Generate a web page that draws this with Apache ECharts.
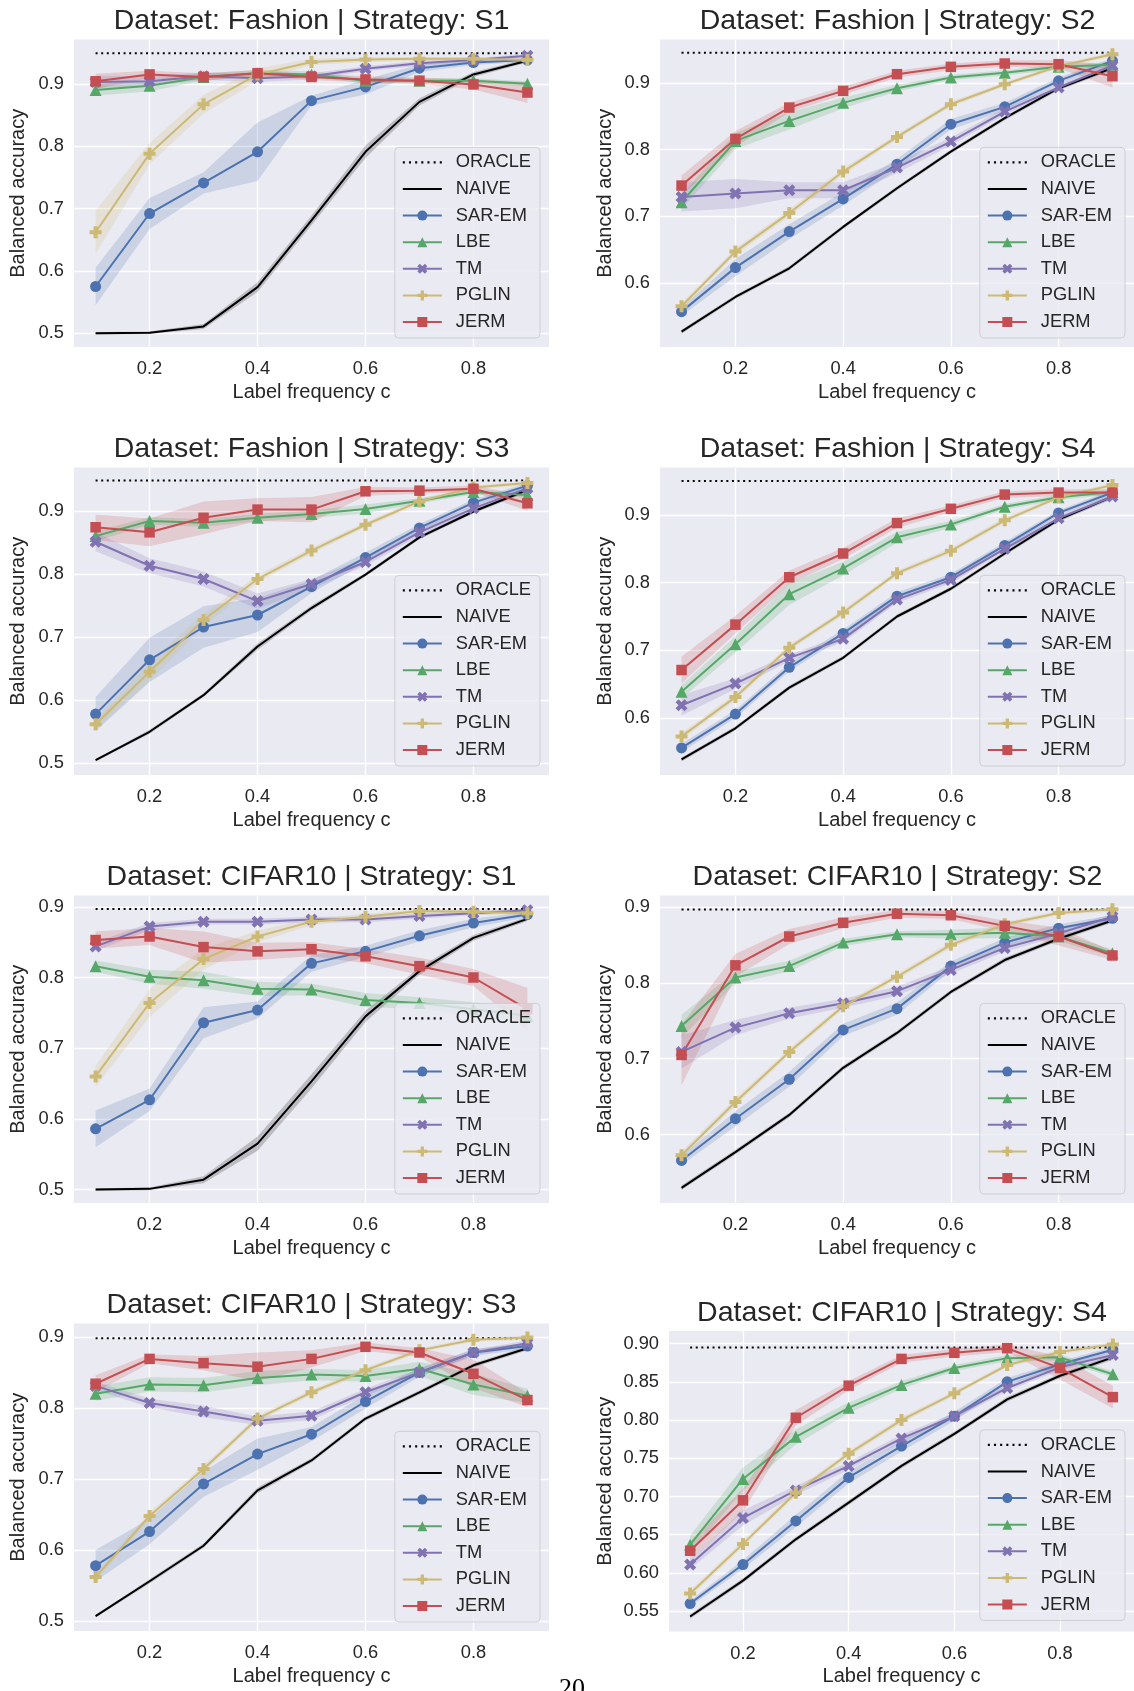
<!DOCTYPE html>
<html>
<head>
<meta charset="utf-8">
<script src="https://cdn.jsdelivr.net/npm/echarts@6/dist/echarts.min.js"></script>
<style>
html,body{margin:0;padding:0;background:#ffffff;}
#chart{width:1134px;height:1691px;}
</style>
</head>
<body>
<div id="chart"></div>
<script>
// ---------------- data ----------------
const C = [0.1, 0.2, 0.3, 0.4, 0.5, 0.6, 0.7, 0.8, 0.9];
const X_TICKS = [0.2, 0.4, 0.6, 0.8];
const Y_TICKS_A = [0.5, 0.6, 0.7, 0.8, 0.9];
const Y_TICKS_B = [0.6, 0.7, 0.8, 0.9];
const Y_TICKS_C = [0.55, 0.60, 0.65, 0.70, 0.75, 0.80, 0.85, 0.90];
const METHODS = ['ORACLE', 'NAIVE', 'SAR-EM', 'LBE', 'TM', 'PGLIN', 'JERM'];
const TITLES = [
  'Dataset: Fashion | Strategy: S1', 'Dataset: Fashion | Strategy: S2',
  'Dataset: Fashion | Strategy: S3', 'Dataset: Fashion | Strategy: S4',
  'Dataset: CIFAR10 | Strategy: S1', 'Dataset: CIFAR10 | Strategy: S2',
  'Dataset: CIFAR10 | Strategy: S3', 'Dataset: CIFAR10 | Strategy: S4'
];
const ORACLE = [0.949, 0.945, 0.948, 0.950, 0.897, 0.8965, 0.898, 0.895];

// Fashion S1
const f1_naive = [0.500, 0.501, 0.511, 0.574, 0.681, 0.791, 0.871, 0.915, 0.937];
const f1_sarem = [0.575, 0.692, 0.741, 0.791, 0.873, 0.895, 0.925, 0.934, 0.938];
const f1_lbe   = [0.890, 0.897, 0.911, 0.917, 0.915, 0.905, 0.905, 0.905, 0.900];
const f1_tm    = [0.903, 0.904, 0.912, 0.909, 0.912, 0.924, 0.933, 0.938, 0.945];
const f1_pglin = [0.662, 0.788, 0.867, 0.915, 0.935, 0.939, 0.940, 0.940, 0.938];
const f1_jerm  = [0.904, 0.915, 0.911, 0.917, 0.911, 0.907, 0.905, 0.899, 0.886];
const f1_naive_err = [0.002, 0.002, 0.004, 0.008, 0.008, 0.010, 0.006, 0.004, 0.003];
const f1_sarem_err = [0.030, 0.025, 0.017, 0.047, 0.008, 0.012, 0.006, 0.004, 0.003];
const f1_lbe_err   = [0.009, 0.009, 0.006, 0.005, 0.005, 0.004, 0.004, 0.004, 0.004];
const f1_tm_err    = [0.010, 0.008, 0.006, 0.006, 0.005, 0.004, 0.004, 0.003, 0.003];
const f1_pglin_err = [0.035, 0.017, 0.015, 0.010, 0.005, 0.004, 0.003, 0.003, 0.003];
const f1_jerm_err  = [0.012, 0.006, 0.006, 0.005, 0.005, 0.005, 0.005, 0.008, 0.017];

// Fashion S2
const f2_naive = [0.527, 0.579, 0.622, 0.684, 0.742, 0.797, 0.847, 0.892, 0.922];
const f2_sarem = [0.557, 0.623, 0.677, 0.726, 0.778, 0.838, 0.864, 0.903, 0.933];
const f2_lbe   = [0.721, 0.813, 0.843, 0.870, 0.892, 0.908, 0.915, 0.924, 0.927];
const f2_tm    = [0.729, 0.734, 0.739, 0.739, 0.773, 0.812, 0.857, 0.893, 0.926];
const f2_pglin = [0.565, 0.647, 0.705, 0.767, 0.819, 0.868, 0.898, 0.925, 0.943];
const f2_jerm  = [0.746, 0.816, 0.863, 0.888, 0.913, 0.924, 0.929, 0.928, 0.910];
const f2_naive_err = [0.003, 0.003, 0.003, 0.003, 0.003, 0.003, 0.003, 0.003, 0.003];
const f2_sarem_err = [0.006, 0.013, 0.011, 0.010, 0.008, 0.008, 0.006, 0.005, 0.004];
const f2_lbe_err   = [0.010, 0.012, 0.013, 0.008, 0.005, 0.004, 0.004, 0.004, 0.004];
const f2_tm_err    = [0.022, 0.022, 0.012, 0.012, 0.008, 0.006, 0.005, 0.004, 0.004];
const f2_pglin_err = [0.005, 0.005, 0.005, 0.005, 0.004, 0.004, 0.003, 0.003, 0.003];
const f2_jerm_err  = [0.015, 0.012, 0.007, 0.006, 0.005, 0.005, 0.005, 0.006, 0.017];

// Fashion S3
const f3_naive = [0.505, 0.550, 0.608, 0.685, 0.746, 0.799, 0.858, 0.899, 0.933];
const f3_sarem = [0.578, 0.664, 0.716, 0.735, 0.780, 0.826, 0.873, 0.913, 0.940];
const f3_lbe   = [0.860, 0.884, 0.881, 0.889, 0.895, 0.903, 0.916, 0.930, 0.925];
const f3_tm    = [0.851, 0.813, 0.792, 0.757, 0.784, 0.819, 0.866, 0.904, 0.936];
const f3_pglin = [0.562, 0.645, 0.727, 0.792, 0.837, 0.878, 0.915, 0.937, 0.944];
const f3_jerm  = [0.874, 0.866, 0.889, 0.902, 0.902, 0.931, 0.932, 0.935, 0.912];
const f3_naive_err = [0.002, 0.003, 0.003, 0.005, 0.004, 0.003, 0.003, 0.003, 0.003];
const f3_sarem_err = [0.027, 0.035, 0.033, 0.027, 0.010, 0.008, 0.006, 0.005, 0.004];
const f3_lbe_err   = [0.008, 0.006, 0.006, 0.006, 0.006, 0.007, 0.004, 0.004, 0.004];
const f3_tm_err    = [0.015, 0.012, 0.012, 0.012, 0.008, 0.006, 0.006, 0.005, 0.004];
const f3_pglin_err = [0.008, 0.015, 0.010, 0.006, 0.005, 0.004, 0.004, 0.003, 0.003];
const f3_jerm_err  = [0.020, 0.022, 0.026, 0.018, 0.020, 0.007, 0.005, 0.005, 0.012];

// Fashion S4
const f4_naive = [0.539, 0.585, 0.645, 0.689, 0.750, 0.791, 0.843, 0.893, 0.927];
const f4_sarem = [0.556, 0.606, 0.675, 0.725, 0.780, 0.808, 0.855, 0.903, 0.933];
const f4_lbe   = [0.639, 0.709, 0.783, 0.821, 0.867, 0.886, 0.912, 0.926, 0.934];
const f4_tm    = [0.619, 0.651, 0.689, 0.717, 0.775, 0.804, 0.850, 0.895, 0.927];
const f4_pglin = [0.573, 0.631, 0.704, 0.756, 0.814, 0.847, 0.892, 0.926, 0.944];
const f4_jerm  = [0.671, 0.738, 0.808, 0.843, 0.888, 0.909, 0.930, 0.933, 0.933];
const f4_naive_err = [0.003, 0.003, 0.003, 0.003, 0.003, 0.003, 0.003, 0.003, 0.003];
const f4_sarem_err = [0.006, 0.006, 0.006, 0.006, 0.006, 0.005, 0.005, 0.004, 0.004];
const f4_lbe_err   = [0.010, 0.012, 0.016, 0.010, 0.008, 0.005, 0.004, 0.004, 0.004];
const f4_tm_err    = [0.015, 0.008, 0.005, 0.005, 0.005, 0.005, 0.004, 0.004, 0.004];
const f4_pglin_err = [0.005, 0.005, 0.004, 0.004, 0.004, 0.004, 0.004, 0.003, 0.003];
const f4_jerm_err  = [0.020, 0.013, 0.010, 0.008, 0.007, 0.005, 0.005, 0.005, 0.005];

// CIFAR10 S1
const c1_naive = [0.500, 0.501, 0.514, 0.565, 0.653, 0.745, 0.809, 0.856, 0.883];
const c1_sarem = [0.586, 0.627, 0.736, 0.754, 0.820, 0.837, 0.859, 0.877, 0.889];
const c1_lbe   = [0.816, 0.801, 0.796, 0.784, 0.783, 0.768, 0.764, 0.755, 0.746];
const c1_tm    = [0.844, 0.872, 0.879, 0.879, 0.882, 0.882, 0.887, 0.891, 0.895];
const c1_pglin = [0.660, 0.764, 0.826, 0.858, 0.879, 0.886, 0.894, 0.893, 0.891];
const c1_jerm  = [0.853, 0.858, 0.843, 0.837, 0.840, 0.830, 0.816, 0.800, 0.755];
const c1_naive_err = [0.002, 0.002, 0.005, 0.010, 0.010, 0.008, 0.005, 0.004, 0.003];
const c1_sarem_err = [0.026, 0.016, 0.022, 0.012, 0.012, 0.008, 0.008, 0.006, 0.004];
const c1_lbe_err   = [0.008, 0.010, 0.012, 0.010, 0.008, 0.010, 0.008, 0.010, 0.010];
const c1_tm_err    = [0.006, 0.005, 0.004, 0.004, 0.004, 0.004, 0.004, 0.003, 0.003];
const c1_pglin_err = [0.015, 0.020, 0.015, 0.008, 0.005, 0.004, 0.003, 0.003, 0.003];
const c1_jerm_err  = [0.012, 0.012, 0.022, 0.012, 0.010, 0.010, 0.012, 0.012, 0.030];

// CIFAR10 S2
const c2_naive = [0.530, 0.577, 0.626, 0.688, 0.734, 0.788, 0.830, 0.858, 0.882];
const c2_sarem = [0.566, 0.621, 0.673, 0.738, 0.766, 0.822, 0.853, 0.872, 0.885];
const c2_lbe   = [0.743, 0.807, 0.822, 0.853, 0.864, 0.864, 0.866, 0.861, 0.839];
const c2_tm    = [0.709, 0.741, 0.760, 0.773, 0.789, 0.817, 0.846, 0.865, 0.887];
const c2_pglin = [0.573, 0.643, 0.709, 0.769, 0.808, 0.850, 0.877, 0.892, 0.897];
const c2_jerm  = [0.705, 0.823, 0.861, 0.879, 0.891, 0.889, 0.875, 0.861, 0.836];
const c2_naive_err = [0.003, 0.003, 0.003, 0.003, 0.003, 0.003, 0.003, 0.003, 0.003];
const c2_sarem_err = [0.006, 0.010, 0.010, 0.008, 0.008, 0.006, 0.006, 0.005, 0.004];
const c2_lbe_err   = [0.015, 0.008, 0.007, 0.005, 0.004, 0.006, 0.007, 0.006, 0.005];
const c2_tm_err    = [0.022, 0.010, 0.007, 0.006, 0.006, 0.005, 0.005, 0.004, 0.004];
const c2_pglin_err = [0.005, 0.005, 0.004, 0.004, 0.004, 0.004, 0.003, 0.003, 0.003];
const c2_jerm_err  = [0.040, 0.015, 0.010, 0.007, 0.005, 0.005, 0.007, 0.012, 0.006];

// CIFAR10 S3
const c3_naive = [0.507, 0.556, 0.606, 0.684, 0.726, 0.785, 0.822, 0.860, 0.884];
const c3_sarem = [0.578, 0.626, 0.693, 0.735, 0.763, 0.809, 0.850, 0.878, 0.887];
const c3_lbe   = [0.820, 0.833, 0.832, 0.842, 0.847, 0.845, 0.855, 0.833, 0.817];
const c3_tm    = [0.831, 0.807, 0.795, 0.782, 0.789, 0.822, 0.850, 0.878, 0.891];
const c3_pglin = [0.562, 0.648, 0.714, 0.785, 0.822, 0.853, 0.881, 0.896, 0.899];
const c3_jerm  = [0.834, 0.869, 0.863, 0.858, 0.869, 0.886, 0.878, 0.848, 0.811];
const c3_naive_err = [0.002, 0.003, 0.003, 0.004, 0.003, 0.003, 0.003, 0.003, 0.003];
const c3_sarem_err = [0.022, 0.018, 0.018, 0.022, 0.010, 0.010, 0.006, 0.005, 0.004];
const c3_lbe_err   = [0.010, 0.010, 0.010, 0.010, 0.008, 0.008, 0.010, 0.015, 0.010];
const c3_tm_err    = [0.006, 0.006, 0.008, 0.006, 0.006, 0.005, 0.005, 0.004, 0.004];
const c3_pglin_err = [0.005, 0.005, 0.005, 0.004, 0.004, 0.004, 0.003, 0.003, 0.003];
const c3_jerm_err  = [0.012, 0.006, 0.010, 0.020, 0.012, 0.006, 0.006, 0.020, 0.010];

// CIFAR10 S4
const c4_naive = [0.543, 0.590, 0.644, 0.692, 0.740, 0.782, 0.827, 0.858, 0.882];
const c4_sarem = [0.560, 0.611, 0.668, 0.725, 0.766, 0.805, 0.850, 0.873, 0.892];
const c4_lbe   = [0.637, 0.723, 0.778, 0.816, 0.846, 0.868, 0.881, 0.882, 0.860];
const c4_tm    = [0.611, 0.672, 0.708, 0.740, 0.776, 0.805, 0.842, 0.869, 0.885];
const c4_pglin = [0.573, 0.638, 0.705, 0.756, 0.800, 0.835, 0.872, 0.889, 0.899];
const c4_jerm  = [0.629, 0.695, 0.803, 0.845, 0.880, 0.888, 0.894, 0.868, 0.830];
const c4_naive_err = [0.003, 0.003, 0.003, 0.003, 0.003, 0.003, 0.003, 0.003, 0.003];
const c4_sarem_err = [0.004, 0.006, 0.008, 0.008, 0.007, 0.006, 0.005, 0.004, 0.004];
const c4_lbe_err   = [0.012, 0.015, 0.010, 0.007, 0.005, 0.004, 0.004, 0.004, 0.004];
const c4_tm_err    = [0.006, 0.010, 0.006, 0.005, 0.005, 0.004, 0.004, 0.004, 0.004];
const c4_pglin_err = [0.004, 0.004, 0.004, 0.004, 0.004, 0.003, 0.003, 0.003, 0.003];
const c4_jerm_err  = [0.012, 0.015, 0.010, 0.006, 0.005, 0.005, 0.005, 0.015, 0.015];

// ---------------- assembly ----------------
const MEANS = [
  [f1_naive, f1_sarem, f1_lbe, f1_tm, f1_pglin, f1_jerm],
  [f2_naive, f2_sarem, f2_lbe, f2_tm, f2_pglin, f2_jerm],
  [f3_naive, f3_sarem, f3_lbe, f3_tm, f3_pglin, f3_jerm],
  [f4_naive, f4_sarem, f4_lbe, f4_tm, f4_pglin, f4_jerm],
  [c1_naive, c1_sarem, c1_lbe, c1_tm, c1_pglin, c1_jerm],
  [c2_naive, c2_sarem, c2_lbe, c2_tm, c2_pglin, c2_jerm],
  [c3_naive, c3_sarem, c3_lbe, c3_tm, c3_pglin, c3_jerm],
  [c4_naive, c4_sarem, c4_lbe, c4_tm, c4_pglin, c4_jerm]
];
const ERRS = [
  [f1_naive_err, f1_sarem_err, f1_lbe_err, f1_tm_err, f1_pglin_err, f1_jerm_err],
  [f2_naive_err, f2_sarem_err, f2_lbe_err, f2_tm_err, f2_pglin_err, f2_jerm_err],
  [f3_naive_err, f3_sarem_err, f3_lbe_err, f3_tm_err, f3_pglin_err, f3_jerm_err],
  [f4_naive_err, f4_sarem_err, f4_lbe_err, f4_tm_err, f4_pglin_err, f4_jerm_err],
  [c1_naive_err, c1_sarem_err, c1_lbe_err, c1_tm_err, c1_pglin_err, c1_jerm_err],
  [c2_naive_err, c2_sarem_err, c2_lbe_err, c2_tm_err, c2_pglin_err, c2_jerm_err],
  [c3_naive_err, c3_sarem_err, c3_lbe_err, c3_tm_err, c3_pglin_err, c3_jerm_err],
  [c4_naive_err, c4_sarem_err, c4_lbe_err, c4_tm_err, c4_pglin_err, c4_jerm_err]
];

// layout (pixels) and axis limits
const LAYOUT = [
  {left: 74,  top: 39.5,   width: 475, height: 307.5, yMin: 0.478,  yMax: 0.971,  yTicks: Y_TICKS_A, dec: 1, nameGap: 46},
  {left: 660, top: 39.5,   width: 475, height: 307.5, yMin: 0.504,  yMax: 0.965,  yTicks: Y_TICKS_B, dec: 1, nameGap: 45},
  {left: 74,  top: 467.5,  width: 475, height: 307.5, yMin: 0.4815, yMax: 0.9687, yTicks: Y_TICKS_A, dec: 1, nameGap: 46},
  {left: 660, top: 467.5,  width: 475, height: 307.5, yMin: 0.516,  yMax: 0.970,  yTicks: Y_TICKS_B, dec: 1, nameGap: 45},
  {left: 74,  top: 895.5,  width: 475, height: 307.5, yMin: 0.481,  yMax: 0.916,  yTicks: Y_TICKS_A, dec: 1, nameGap: 46},
  {left: 660, top: 895.5,  width: 475, height: 307.5, yMin: 0.510,  yMax: 0.915,  yTicks: Y_TICKS_B, dec: 1, nameGap: 45},
  {left: 74,  top: 1323.5, width: 475, height: 307.5, yMin: 0.486,  yMax: 0.9188, yTicks: Y_TICKS_A, dec: 1, nameGap: 46},
  {left: 669, top: 1331,   width: 466, height: 300.5, yMin: 0.5234, yMax: 0.9165, yTicks: Y_TICKS_C, dec: 2, nameGap: 54}
];

const FONT = '"Liberation Sans", Arial, Helvetica, sans-serif';
const TXT = '#262626';
const PLUS = 'path://M4,0H8V4H12V8H8V12H4V8H0V4H4Z';
const XMARK = 'path://M3,0L6,3L9,0L12,3L9,6L12,9L9,12L6,9L3,12L0,9L3,6L0,3Z';
const STY = [
  {color: '#000000', symbol: 'none', size: 0},
  {color: '#4C72B0', symbol: 'circle', size: 11},
  {color: '#55A868', symbol: 'triangle', size: 12},
  {color: '#8172B2', symbol: XMARK, size: 12},
  {color: '#CCB974', symbol: PLUS, size: 12},
  {color: '#C44E52', symbol: 'rect', size: 10.5}
];
const DOTS = 'path://M0,0h2v2h-2zM6,0h2v2h-2zM12,0h2v2h-2zM18,0h2v2h-2zM24,0h2v2h-2zM30,0h2v2h-2zM36,0h2v2h-2z';
const SOLID = 'path://M0,0h39v2h-39z';

const grid = [], xAxis = [], yAxis = [], series = [], legend = [], title = [];

LAYOUT.forEach((L, p) => {
  grid.push({left: L.left, top: L.top, width: L.width, height: L.height,
    show: true, backgroundColor: '#EAEAF2', borderWidth: 0, containLabel: false});
  xAxis.push({type: 'value', gridIndex: p, min: 0.06, max: 0.94,
    name: 'Label frequency c', nameLocation: 'middle', nameGap: 35,
    nameTextStyle: {fontSize: 20, color: TXT, fontFamily: FONT},
    axisLine: {show: false}, axisTick: {show: false, customValues: X_TICKS},
    axisLabel: {customValues: X_TICKS, margin: 13, fontSize: 18.3, color: TXT, fontFamily: FONT,
      formatter: v => Number(v).toFixed(1)},
    splitLine: {show: true, lineStyle: {color: '#ffffff', width: 1.3}}});
  yAxis.push({type: 'value', gridIndex: p, min: L.yMin, max: L.yMax,
    name: 'Balanced accuracy', nameLocation: 'middle', nameGap: L.nameGap,
    nameTextStyle: {fontSize: 20, color: TXT, fontFamily: FONT},
    axisLine: {show: false}, axisTick: {show: false, customValues: L.yTicks},
    axisLabel: {customValues: L.yTicks, margin: 10, fontSize: 18.3, color: TXT, fontFamily: FONT,
      formatter: v => Number(v).toFixed(L.dec)},
    splitLine: {show: true, lineStyle: {color: '#ffffff', width: 1.3}}});
  title.push({text: TITLES[p], left: L.left + L.width / 2, top: L.top - 18,
    textAlign: 'center', textVerticalAlign: 'middle', padding: 0,
    textStyle: {fontSize: 28.5, fontWeight: 'normal', color: TXT, fontFamily: FONT}});

  const means = MEANS[p], errs = ERRS[p];
  // bands (under lines)
  means.forEach((m, k) => {
    const e = errs[k];
    series.push({type: 'custom', name: 'band' + p + '_' + k, coordinateSystem: 'cartesian2d',
      xAxisIndex: p, yAxisIndex: p, silent: true, z: 1, animation: false,
      data: [[C[0], m[0]]],
      renderItem: (params, api) => {
        const pts = [];
        for (let i = 0; i < C.length; i++) pts.push(api.coord([C[i], m[i] + e[i]]));
        for (let i = C.length - 1; i >= 0; i--) pts.push(api.coord([C[i], m[i] - e[i]]));
        return {type: 'polygon', shape: {points: pts},
          style: {fill: STY[k].color, opacity: 0.2, stroke: null}};
      }});
  });
  // oracle
  series.push({type: 'line', name: 'ORACLE', xAxisIndex: p, yAxisIndex: p,
    data: [[C[0], ORACLE[p]], [C[C.length - 1], ORACLE[p]]],
    symbol: 'none', showSymbol: false, color: '#000000',
    lineStyle: {color: '#000000', width: 2, type: [2, 3.6]},
    z: 3, silent: true, animation: false, emphasis: {disabled: true}});
  // methods
  means.forEach((m, k) => {
    const s = STY[k];
    series.push({type: 'line', name: METHODS[k + 1], xAxisIndex: p, yAxisIndex: p,
      data: C.map((c, i) => [c, m[i]]),
      symbol: s.symbol, symbolSize: s.size, showSymbol: s.symbol !== 'none',
      color: s.color, itemStyle: {color: s.color, borderWidth: 0},
      lineStyle: {color: s.color, width: 2},
      z: 3, silent: true, clip: false, animation: false, emphasis: {disabled: true}});
  });

  const isLeft = L.left < 300;
  legend.push({orient: 'vertical', selectedMode: false,
    right: isLeft ? 1134 - 540 : 9,
    bottom: 1691 - (L.top + L.height - (p === 7 ? 11 : 9)),
    itemWidth: 39, itemHeight: 12.5, itemGap: 8.6, padding: [6, 9, 7, 7],
    backgroundColor: 'rgba(234,234,242,0.8)', borderColor: 'rgba(200,200,205,0.8)',
    borderWidth: 1, borderRadius: 4, z: 10,
    textStyle: {fontSize: 18.3, color: TXT, fontFamily: FONT, lineHeight: 18, padding: [0, 0, 0, 9]},
    data: METHODS.map((n, i) => i === 0 ? {name: n, icon: DOTS} : (i === 1 ? {name: n, icon: SOLID} : {name: n}))});
});

const chart = echarts.init(document.getElementById('chart'), null, {renderer: 'canvas', width: 1134, height: 1691});
chart.setOption({
  backgroundColor: '#ffffff',
  animation: false,
  title: title,
  grid: grid,
  xAxis: xAxis,
  yAxis: yAxis,
  legend: legend,
  series: series,
  graphic: [{type: 'text', left: 559, top: 1676, silent: true,
    style: {text: '20', font: '26px "Liberation Serif", "Times New Roman", serif', fill: '#000000'}}]
});
</script>
</body>
</html>
